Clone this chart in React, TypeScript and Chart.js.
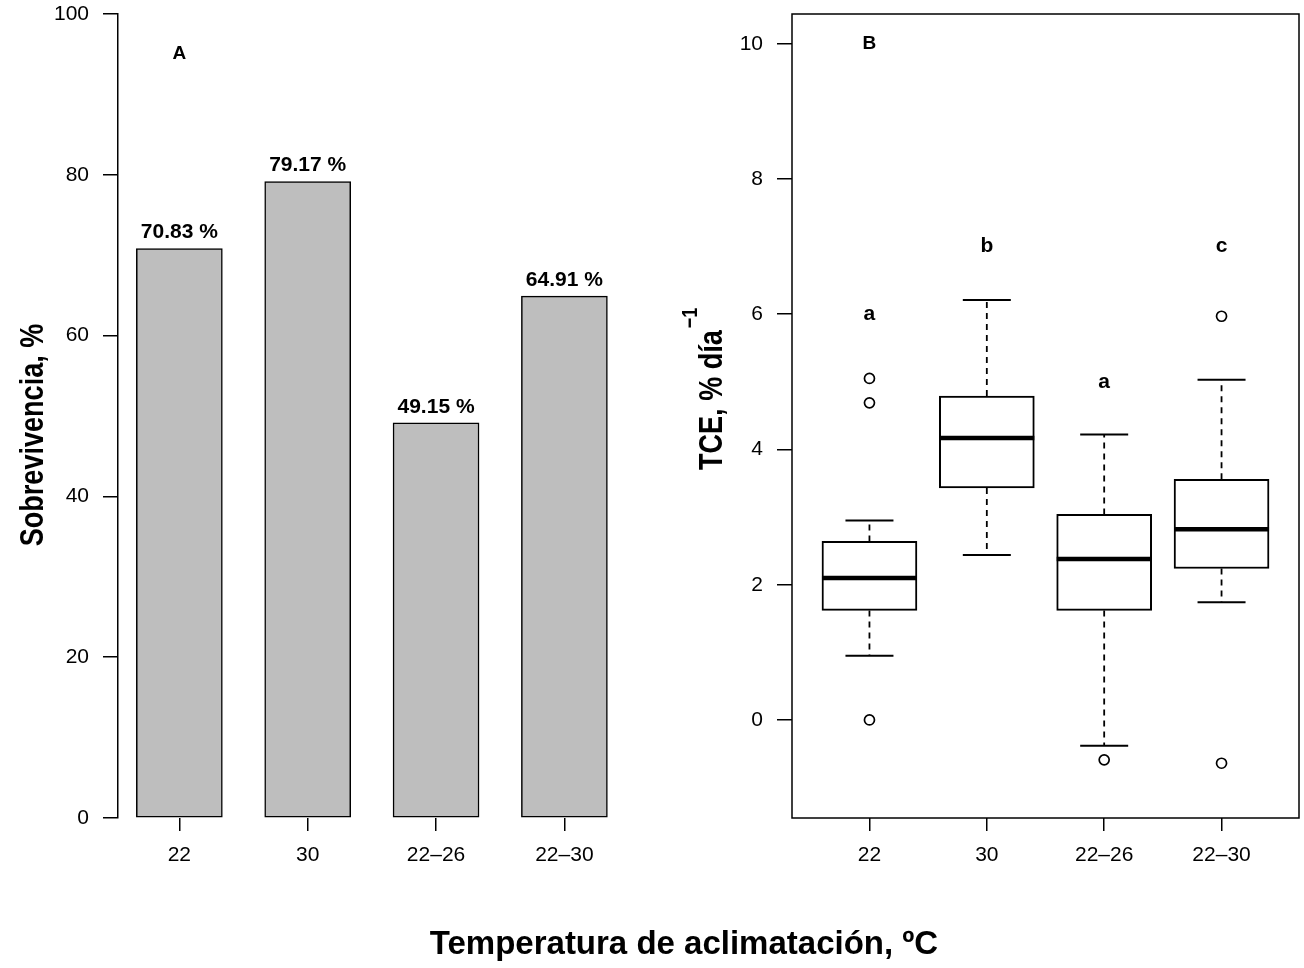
import React, { useEffect, useRef } from 'react';
import { Chart, registerables } from 'chart.js';

Chart.register(...registerables);

// ---------- data ----------
const categories = ['22', '30', '22–26', '22–30'];
const survival = [70.83, 79.17, 49.15, 64.91];
const survivalTicks = [0, 20, 40, 60, 80, 100];

const tceTicks = [0, 2, 4, 6, 8, 10];
const whiskerLow = [0.95, 2.44, -0.38, 1.74];
const q1 = [1.62, 3.43, 1.62, 2.24];
const median = [2.1, 4.17, 2.38, 2.82];
const q3 = [2.64, 4.79, 3.04, 3.56];
const whiskerHigh = [2.95, 6.21, 4.22, 5.03];
const outlierGroup = [1, 1, 1, 3, 4, 4];
const outlierValue = [5.05, 4.69, 0.0, -0.59, 5.97, -0.64];
const groupLetters = ['a', 'b', 'a', 'c'];
const letterValue = [6.0, 7.0, 5.0, 7.0];

const FONT = '"Liberation Sans", Arial, Helvetica, sans-serif';
const W = 1304;
const H = 968;
const LEFT_W = 650;
const RIGHT_X = 650;
const RIGHT_W = W - RIGHT_X;

function rotatedTitle(ctx: CanvasRenderingContext2D, text: string, bx: number, y: number, align: CanvasTextAlign, size: number) {
  ctx.save();
  ctx.translate(bx, y);
  ctx.rotate(-Math.PI / 2);
  ctx.scale(0.82, 1);
  ctx.font = `bold ${size}px ${FONT}`;
  ctx.fillStyle = '#000';
  ctx.textAlign = align;
  ctx.textBaseline = 'alphabetic';
  ctx.fillText(text, 0, 0);
  const w = ctx.measureText(text).width * 0.82;
  ctx.restore();
  return w;
}

function zeroPad(s: any) {
  s.paddingTop = 0;
  s.paddingBottom = 0;
  s.paddingLeft = 0;
  s.paddingRight = 0;
}

export default function App() {
  const leftRef = useRef<HTMLCanvasElement>(null);
  const rightRef = useRef<HTMLCanvasElement>(null);

  useEffect(() => {
    Chart.defaults.color = '#000';
    const pos = categories.map((_, i) => i + 1);
    const tickFont = { size: 21, family: FONT };

    const xAxis = (min: number, max: number) => ({
      type: 'linear',
      min,
      max,
      offset: false,
      afterBuildTicks: (s: any) => {
        s.ticks = pos.map((v) => ({ value: v }));
      },
      afterFit: (s: any) => {
        s.height = H - 818;
        zeroPad(s);
      },
      ticks: {
        callback: (v: any) => categories[Math.round(Number(v)) - 1] ?? '',
        font: tickFont,
        color: '#000',
        padding: 12,
        maxRotation: 0,
        autoSkip: false,
      },
      grid: { display: true, drawOnChartArea: false, drawTicks: true, tickLength: 13, color: '#000', lineWidth: 1.5, offset: false },
      border: { display: false },
    });

    const leftText = {
      id: 'leftText',
      afterDatasetsDraw(chart: any) {
        const { ctx, scales } = chart;
        const x = scales.x;
        const y = scales.y;
        ctx.save();
        ctx.fillStyle = '#000';
        ctx.textAlign = 'center';
        ctx.textBaseline = 'middle';
        ctx.font = `bold 21px ${FONT}`;
        survival.forEach((v, i) => {
          ctx.fillText(`${v.toFixed(2)} %`, x.getPixelForValue(pos[i]), y.getPixelForValue(v + 2));
        });
        ctx.font = `bold 19px ${FONT}`;
        ctx.fillText('A', x.getPixelForValue(1), y.getPixelForValue(95));
        ctx.restore();
        rotatedTitle(ctx, 'Sobrevivencia, %', 43, 435, 'center', 33);
      },
    };

    const left = new Chart(leftRef.current as HTMLCanvasElement, {
      type: 'bar',
      data: {
        datasets: [
          {
            data: survival.map((v, i) => ({ x: pos[i], y: v })),
            backgroundColor: '#bebebe',
            borderColor: '#000',
            borderWidth: 1.5,
            borderSkipped: false,
            barThickness: 86,
          } as any,
        ],
      },
      options: {
        responsive: false,
        animation: false,
        events: [],
        layout: { autoPadding: false, padding: { left: 0, top: 14, right: LEFT_W - 626, bottom: 0 } },
        plugins: { legend: { display: false }, tooltip: { enabled: false } },
        scales: {
          x: xAxis(0.522, 4.48),
          y: {
            min: 0,
            max: 100,
            afterBuildTicks: (s: any) => {
              s.ticks = survivalTicks.map((v) => ({ value: v }));
            },
            afterFit: (s: any) => {
              s.width = 118;
              zeroPad(s);
            },
            ticks: { font: tickFont, color: '#000', padding: 14 },
            grid: { drawOnChartArea: false, drawTicks: true, tickLength: 15, color: '#000', lineWidth: 1.5 },
            border: { display: true, color: '#000', width: 1.5 },
          },
        } as any,
      },
      plugins: [leftText],
    });

    const rightText = {
      id: 'rightText',
      afterDraw(chart: any) {
        const { ctx, scales, chartArea } = chart;
        const x = scales.x;
        const y = scales.y;
        ctx.save();
        ctx.strokeStyle = '#000';
        ctx.lineWidth = 1.5;
        ctx.strokeRect(chartArea.left, chartArea.top, chartArea.right - chartArea.left, chartArea.bottom - chartArea.top);
        ctx.fillStyle = '#000';
        ctx.textAlign = 'center';
        ctx.textBaseline = 'middle';
        ctx.font = `bold 21px ${FONT}`;
        groupLetters.forEach((l, i) => {
          ctx.fillText(l, x.getPixelForValue(pos[i]), y.getPixelForValue(letterValue[i]));
        });
        ctx.font = `bold 19px ${FONT}`;
        ctx.fillText('B', x.getPixelForValue(1), y.getPixelForValue(10));
        ctx.restore();
        const w = rotatedTitle(ctx, 'TCE, % día', 722 - RIGHT_X, 470, 'left', 33);
        rotatedTitle(ctx, '−1', 697 - RIGHT_X, 470 - w - 2, 'left', 22);
      },
    };

    const whiskerData: any[] = [];
    pos.forEach((p, i) => {
      whiskerData.push({ x: p, y: q3[i] }, { x: p, y: whiskerHigh[i] }, { x: p, y: null });
      whiskerData.push({ x: p, y: q1[i] }, { x: p, y: whiskerLow[i] }, { x: p, y: null });
    });
    const capData: any[] = [];
    pos.forEach((p, i) => {
      capData.push({ x: p, y: whiskerHigh[i] }, { x: p, y: whiskerLow[i] });
    });

    const right = new Chart(rightRef.current as HTMLCanvasElement, {
      type: 'bar',
      data: {
        datasets: [
          {
            type: 'line',
            data: whiskerData,
            borderColor: '#000',
            borderWidth: 1.8,
            borderDash: [6, 5],
            pointRadius: 0,
            spanGaps: false,
            fill: false,
            order: 5,
          },
          {
            type: 'bar',
            data: pos.map((p, i) => ({ x: p, y: [q1[i], q3[i]] })),
            backgroundColor: '#fff',
            borderColor: '#000',
            borderWidth: 2,
            borderSkipped: false,
            barThickness: 95,
            order: 4,
          },
          {
            type: 'scatter',
            data: pos.map((p, i) => ({ x: p, y: median[i] })),
            pointStyle: 'line',
            pointRadius: 47.5,
            pointBorderWidth: 4.5,
            pointBorderColor: '#000',
            order: 3,
          },
          {
            type: 'scatter',
            data: capData,
            pointStyle: 'line',
            pointRadius: 24,
            pointBorderWidth: 2,
            pointBorderColor: '#000',
            order: 2,
          },
          {
            type: 'scatter',
            data: outlierGroup.map((g, i) => ({ x: g, y: outlierValue[i] })),
            pointStyle: 'circle',
            pointRadius: 5,
            pointBorderWidth: 1.7,
            pointBorderColor: '#000',
            pointBackgroundColor: '#fff',
            order: 1,
          },
        ] as any,
      },
      options: {
        responsive: false,
        animation: false,
        events: [],
        layout: { autoPadding: false, padding: { left: 0, top: 14, right: W - 1299, bottom: 0 } },
        plugins: { legend: { display: false }, tooltip: { enabled: false } },
        scales: {
          x: xAxis(0.34, 4.66),
          y: {
            min: -1.45,
            max: 10.44,
            afterBuildTicks: (s: any) => {
              s.ticks = tceTicks.map((v) => ({ value: v }));
            },
            afterFit: (s: any) => {
              s.width = 792 - RIGHT_X;
              zeroPad(s);
            },
            ticks: { font: tickFont, color: '#000', padding: 14 },
            grid: { drawOnChartArea: false, drawTicks: true, tickLength: 15, color: '#000', lineWidth: 1.5 },
            border: { display: false },
          },
        } as any,
      },
      plugins: [rightText],
    });

    return () => {
      left.destroy();
      right.destroy();
    };
  }, []);

  return (
    <div style={{ position: 'absolute', left: 0, top: 0, width: W, height: H, background: '#fff', fontFamily: FONT }}>
      <canvas ref={leftRef} width={LEFT_W} height={H} style={{ position: 'absolute', left: 0, top: 0 }} />
      <canvas ref={rightRef} width={RIGHT_W} height={H} style={{ position: 'absolute', left: RIGHT_X, top: 0 }} />
      <div
        style={{
          position: 'absolute',
          left: 0,
          width: 1368,
          top: 923,
          height: 40,
          lineHeight: '40px',
          fontSize: 33,
          fontWeight: 'bold',
          textAlign: 'center',
          color: '#000',
          whiteSpace: 'nowrap',
        }}
      >
        Temperatura de aclimatación, ºC
      </div>
    </div>
  );
}
